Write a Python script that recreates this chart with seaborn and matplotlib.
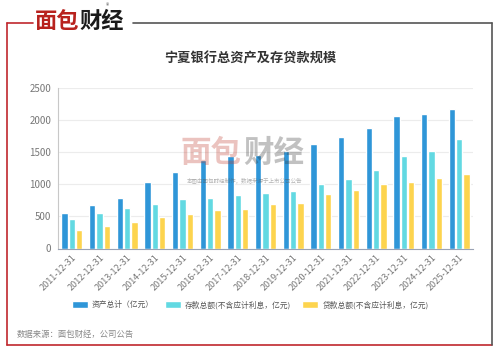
import pandas as pd
import seaborn as sns
import matplotlib.pyplot as plt
from matplotlib.lines import Line2D
from matplotlib.ticker import MultipleLocator, FixedLocator

# data (亿元)
dates = ['2011-12-31', '2012-12-31', '2013-12-31', '2014-12-31', '2015-12-31',
         '2016-12-31', '2017-12-31', '2018-12-31', '2019-12-31', '2020-12-31',
         '2021-12-31', '2022-12-31', '2023-12-31', '2024-12-31', '2025-12-31']
assets = [556, 670, 790, 1035, 1195, 1380, 1430, 1455, 1520, 1630, 1735, 1865, 2050, 2090, 2170]
deposits = [460, 555, 627, 690, 770, 790, 826, 860, 895, 1000, 1080, 1225, 1430, 1515, 1695]
loans = [290, 348, 415, 485, 540, 605, 616, 685, 711, 842, 915, 1005, 1036, 1095, 1158]

series_names = ['资产总计（亿元）', '存款总额(不含应计利息，亿元)', '贷款总额(不含应计利息，亿元)']
colors = ['#2f96d8', '#62d9e2', '#fdd44e']

rows = []
for name, vals in zip(series_names, [assets, deposits, loans]):
    for d, v in zip(dates, vals):
        rows.append({'date': d, 'value': v, 'series': name})
df = pd.DataFrame(rows)

sns.set_style("white")
plt.rcParams['font.family'] = ['Noto Sans CJK SC', 'DejaVu Sans']

W, H = 500, 352
fig = plt.figure(figsize=(5, 3.52), dpi=100)
ax = fig.add_axes([58 / W, 1 - 248.5 / H, 415 / W, 161 / H])

sns.barplot(data=df, x='date', y='value', hue='series', hue_order=series_names,
            palette=dict(zip(series_names, colors)), width=0.8, gap=0.12,
            saturation=1, ax=ax, legend=True)

ax.set_ylim(0, 2500)
ax.set_xlim(-0.5, len(dates) - 0.5)
ax.yaxis.set_major_locator(MultipleLocator(500))
ax.grid(axis='y', color='#ececec', linewidth=0.8)
ax.set_axisbelow(True)
ax.set_xlabel('')
ax.set_ylabel('')
for s in ['top', 'right']:
    ax.spines[s].set_visible(False)
ax.spines['left'].set_color('#c8c8c8')
ax.spines['bottom'].set_color('#9aa3b5')
ax.spines['left'].set_linewidth(0.8)
ax.spines['bottom'].set_linewidth(0.8)
ax.tick_params(axis='y', length=0, labelsize=7, labelcolor='#777777', pad=5)
ax.tick_params(axis='x', which='major', length=0, labelsize=6.5, labelcolor='#777777', pad=3)
ax.xaxis.set_minor_locator(FixedLocator([i - 0.5 for i in range(len(dates) + 1)]))
ax.tick_params(axis='x', which='minor', length=3, color='#9aa3b5', width=0.8)
for lab in ax.get_xticklabels():
    lab.set_rotation(45)
    lab.set_ha('right')
    lab.set_rotation_mode('anchor')

handles, labels = ax.get_legend_handles_labels()
ax.legend_.remove()
fig.legend(handles, labels, loc='center', bbox_to_anchor=(250 / W, 1 - 305 / H), ncol=3,
           frameon=False, fontsize=5.6, handlelength=2.1, handleheight=1.0,
           columnspacing=1.4, handletextpad=0.5, labelcolor='#555555')

# title
fig.text(0.5, 1 - 58 / H, '宁夏银行总资产及存贷款规模', ha='center', va='center',
         fontsize=9.5, fontweight='bold', color='#333333')

# source
fig.text(17 / W, 1 - 334 / H, '数据来源：面包财经，公司公告', ha='left', va='center',
         fontsize=6, color='#888888')

# logo
fig.text(35 / W, 1 - 21 / H, '面包', ha='left', va='center', fontsize=16,
         fontweight='bold', color='#b8221e')
fig.text(79 / W, 1 - 21 / H, '财经', ha='left', va='center', fontsize=16,
         fontweight='bold', color='#1a1a1a')
fig.text(108 / W, 1 - 6 / H, '®', ha='center', va='center', fontsize=5, color='#555555')

# watermark
fig.text(180 / W, 1 - 153 / H, '面包', ha='left', va='center', fontsize=22,
         fontweight='bold', color='#c0392b', alpha=0.3)
fig.text(243 / W, 1 - 153 / H, '财经', ha='left', va='center', fontsize=22,
         fontweight='bold', color='#333333', alpha=0.3)
fig.text(245 / W, 1 - 180 / H, '本图由面包财经制作，数据来源于上市公司公告', ha='center', va='center',
         fontsize=4, color='#555555', alpha=0.45)

# frame
red = '#c0272d'
dark = '#555555'
fig.add_artist(Line2D([7 / W, 7 / W], [1 - 23 / H, 1 - 345 / H], color=red, lw=1.2))
fig.add_artist(Line2D([7 / W, 492 / W], [1 - 345 / H, 1 - 345 / H], color=red, lw=1.2))
fig.add_artist(Line2D([7 / W, 33 / W], [1 - 23 / H, 1 - 23 / H], color=red, lw=1.2))
fig.add_artist(Line2D([133 / W, 492 / W], [1 - 22.5 / H, 1 - 22.5 / H], color=dark, lw=1.2))
fig.add_artist(Line2D([492 / W, 492 / W], [1 - 22.5 / H, 1 - 345 / H], color=dark, lw=1.2))

fig.savefig('out.png', dpi=100, facecolor='white')
plt.close()
